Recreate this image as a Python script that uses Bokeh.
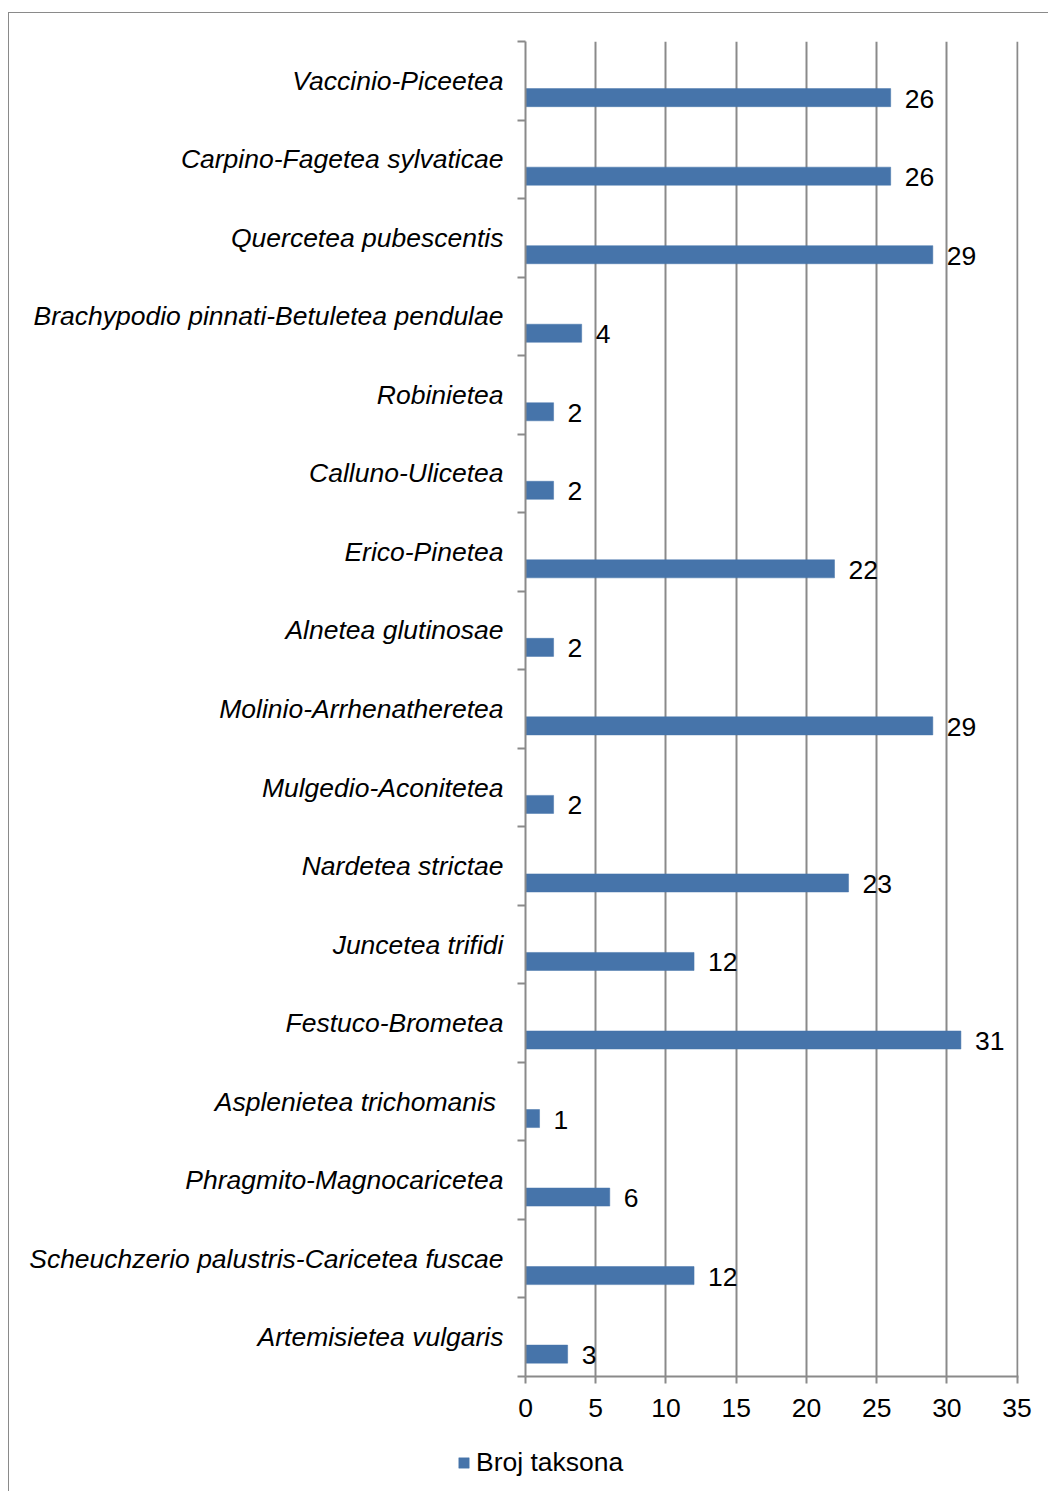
from bokeh.plotting import figure
from bokeh.layouts import column
from bokeh.models import FixedTicker, Legend, LegendItem, ColumnDataSource, Range1d
from bokeh.core.properties import value
from bokeh.embed import file_html
from bokeh.resources import INLINE

# categories from top to bottom
categories = [
    "Vaccinio-Piceetea",
    "Carpino-Fagetea sylvaticae",
    "Quercetea pubescentis",
    "Brachypodio pinnati-Betuletea pendulae",
    "Robinietea",
    "Calluno-Ulicetea",
    "Erico-Pinetea",
    "Alnetea glutinosae",
    "Molinio-Arrhenatheretea",
    "Mulgedio-Aconitetea",
    "Nardetea strictae",
    "Juncetea trifidi",
    "Festuco-Brometea",
    "Asplenietea trichomanis\u00a0",
    "Phragmito-Magnocaricetea",
    "Scheuchzerio palustris-Caricetea fuscae",
    "Artemisietea vulgaris",
]
broj_taksona = [26, 26, 29, 4, 2, 2, 22, 2, 29, 2, 23, 12, 31, 1, 6, 12, 3]
xticks = [0, 5, 10, 15, 20, 25, 30, 35]
series_name = "Broj taksona"

FONT = "Liberation Sans"
FS = "26.5px"
GRAY = "#8a8a8a"
BLUE = "#4674aa"

n = len(categories)
# bottom category at index 0
band_index = [n - 1 - i for i in range(n)]
bar_pos = [b + 0.285 for b in band_index]
label_pos = [b + 0.5 for b in band_index]

src = ColumnDataSource(dict(
    y=bar_pos, v=broj_taksona, t=[str(v) for v in broj_taksona]
))

p = figure(
    width=1039, height=1428,
    x_range=Range1d(0, 35.1), y_range=Range1d(0, n),
    output_backend="svg", toolbar_location=None,
    min_border_left=516, min_border_right=30,
    min_border_top=28, min_border_bottom=65,
)
p.outline_line_color = None
p.background_fill_color = "white"

r = p.hbar(y="y", right="v", left=0, height=0.23, source=src,
           fill_color=BLUE, line_color=BLUE, line_width=0.5)

p.text(x="v", y="y", text="t", source=src, x_offset=14, y_offset=1,
       text_baseline="middle", text_align="left",
       text_font=value(FONT), text_font_size=FS, text_color="black")

# y axis
ya = p.yaxis[0]
ya.ticker = FixedTicker(ticks=label_pos, minor_ticks=list(range(n + 1)))
ya.major_label_overrides = {lp: c for lp, c in zip(label_pos, categories)}
ya.major_label_text_font = FONT
ya.major_label_text_font_style = "italic"
ya.major_label_text_font_size = FS
ya.major_label_text_color = "black"
ya.major_tick_line_color = None
ya.major_tick_out = 0
ya.major_tick_in = 0
ya.major_label_standoff = 14
ya.minor_tick_out = 8
ya.minor_tick_in = 0
ya.minor_tick_line_color = GRAY
ya.minor_tick_line_width = 2
ya.axis_line_color = GRAY
ya.axis_line_width = 2

# x axis
xa = p.xaxis[0]
xa.ticker = FixedTicker(ticks=xticks, minor_ticks=[])
xa.major_label_text_font = FONT
xa.major_label_text_font_size = FS
xa.major_label_text_color = "black"
xa.major_tick_out = 7
xa.major_tick_in = 0
xa.major_tick_line_color = GRAY
xa.major_tick_line_width = 2
xa.axis_line_color = GRAY
xa.axis_line_width = 2
xa.major_label_standoff = 15

p.ygrid.visible = False
p.xgrid.grid_line_color = GRAY
p.xgrid.grid_line_width = 2
p.xgrid.ticker = FixedTicker(ticks=xticks)

# legend strip below the chart (sample renderer hidden, only its legend entry shows)
p2 = figure(
    width=1039, height=50, x_axis_type=None, y_axis_type=None,
    x_range=Range1d(0, 35), y_range=Range1d(-2, -1),
    output_backend="svg", toolbar_location=None,
    min_border_left=448, min_border_right=0, min_border_top=6, min_border_bottom=0,
)
if "frame_align" in p2.properties():
    p2.frame_align = False
p2.outline_line_color = None
p2.xgrid.visible = False
p2.ygrid.visible = False
sample = p2.hbar(y="y", right="v", left=0, height=0.23, source=src,
                 fill_color=BLUE, line_color=BLUE, line_width=0.5)
sample.visible = False
legend = Legend(items=[LegendItem(label=series_name, renderers=[sample])],
                location="top_left", orientation="horizontal",
                glyph_width=13, glyph_height=13, label_standoff=6,
                padding=0, margin=0, border_line_color=None,
                background_fill_alpha=0, inactive_fill_alpha=0,
                label_text_font=FONT, label_text_font_size=FS,
                label_text_color="black")
p2.add_layout(legend, "center")

layout = column(p, p2, spacing=0)
layout.styles = {"border-left": "1px solid #8a8a8a", "border-top": "1px solid #8a8a8a",
                 "margin-top": "12px", "margin-left": "8px"}

open("out.html", "w").write(file_html(layout, INLINE))
